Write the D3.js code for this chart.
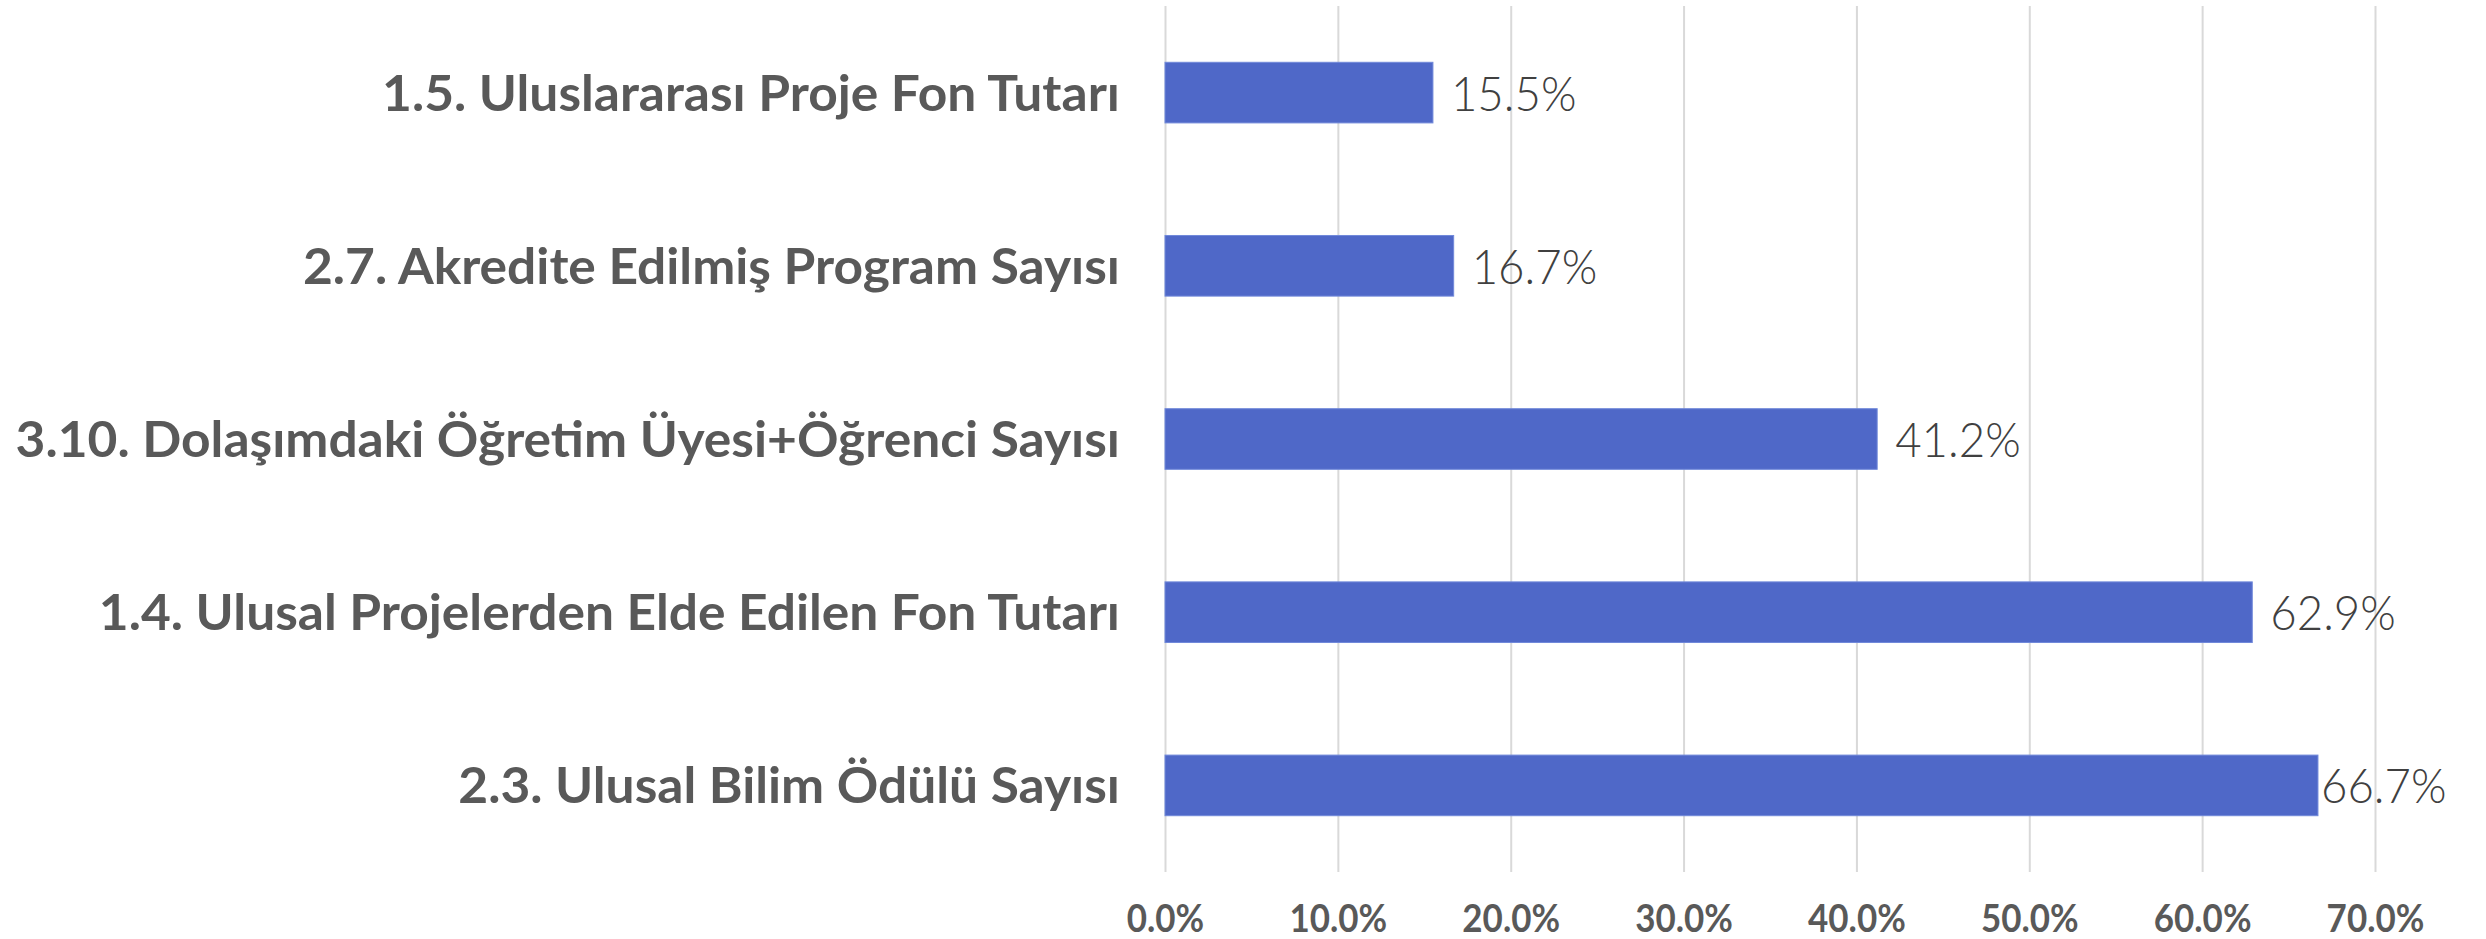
<!DOCTYPE html>
<html>
<head>
<meta charset="utf-8">
<script src="https://cdn.jsdelivr.net/npm/d3@7"></script>
<style>
  html, body { margin: 0; padding: 0; background: #fff; }
  svg { display: block; }
</style>
</head>
<body>
<div id="chart"></div>
<script>
// data
var categories = [
    "1.5. Uluslararası Proje Fon Tutarı",
    "2.7. Akredite Edilmiş Program Sayısı",
    "3.10. Dolaşımdaki Öğretim Üyesi+Öğrenci Sayısı",
    "1.4. Ulusal Projelerden Elde Edilen Fon Tutarı",
    "2.3. Ulusal Bilim Ödülü Sayısı"
];
var values = [15.5, 16.7, 41.2, 62.9, 66.7];
var xTicks = [0, 10, 20, 30, 40, 50, 60, 70];

var width = 2486,
    height = 939;
var margin = {top: 6, right: 111, bottom: 67, left: 1165};

var svg = d3.select("#chart").append("svg")
    .attr("width", width)
    .attr("height", height);

var x = d3.scaleLinear()
    .domain([0, 70])
    .range([margin.left, width - margin.right]);

var y = d3.scaleBand()
    .domain(categories)
    .range([margin.top, height - margin.bottom])
    .paddingInner(0.65)
    .paddingOuter(0.325);

// gridlines + tick labels
var xAxis = d3.axisBottom(x)
    .tickValues(xTicks)
    .tickSize(-(height - margin.bottom - margin.top))
    .tickFormat(function (d) { return d.toFixed(1) + "%"; });

var gx = svg.append("g")
    .attr("transform", "translate(0," + (height - margin.bottom) + ")")
    .call(xAxis);
gx.select(".domain").remove();
gx.selectAll(".tick line")
    .attr("stroke", "#d9d9d9")
    .attr("stroke-width", 2);
gx.selectAll(".tick text")
    .attr("y", 0)
    .attr("dy", 0)
    .attr("fill", "#595959")
    .attr("font-family", "Lato, 'DejaVu Sans', sans-serif")
    .attr("font-weight", "bold")
    .attr("font-size", 38)
    .attr("text-anchor", "middle")
    .attr("transform", "translate(0,60) scale(0.92,1)");

// bars
svg.selectAll("rect.bar")
    .data(values)
    .enter()
    .append("rect")
    .attr("class", "bar")
    .attr("x", x(0))
    .attr("y", function (d, i) { return y(categories[i]); })
    .attr("width", function (d) { return x(d) - x(0); })
    .attr("height", y.bandwidth())
    .attr("fill", "#4f68c8")
    .attr("stroke", "#7189da")
    .attr("stroke-width", 1);

// category labels
svg.selectAll("text.cat")
    .data(categories)
    .enter()
    .append("text")
    .attr("class", "cat")
    .attr("text-anchor", "end")
    .attr("transform", function (d) {
        return "translate(1120," + (y(d) + y.bandwidth() / 2 + 18) + ") scale(1.03,1)";
    })
    .attr("fill", "#595959")
    .attr("font-family", "Lato, 'DejaVu Sans', sans-serif")
    .attr("font-weight", "bold")
    .attr("font-size", 50)
    .text(function (d) { return d; });

// value labels (last one is pushed against the bar so it stays in the chart)
svg.selectAll("text.val")
    .data(values)
    .enter()
    .append("text")
    .attr("class", "val")
    .attr("transform", function (d, i) {
        var px = x(d) + 18;
        if (px + 130 > width - 30) px = x(d) + 3;
        return "translate(" + px + "," + (y(categories[i]) + y.bandwidth() / 2 + 18) + ") scale(0.95,1)";
    })
    .attr("fill", "#404040")
    .attr("font-family", "Lato, 'DejaVu Sans', sans-serif")
    .attr("font-weight", 300)
    .attr("font-size", 48)
    .text(function (d) { return d.toFixed(1) + "%"; });
</script>
</body>
</html>
